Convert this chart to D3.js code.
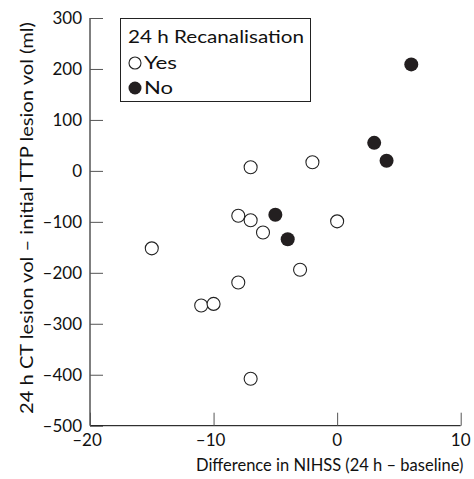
<!DOCTYPE html>
<html>
<head>
<meta charset="utf-8">
<script src="https://cdn.jsdelivr.net/npm/d3@7"></script>
<style>
  body { margin: 0; background: #fff; }
  text { font-family: Lato, "Noto Sans", sans-serif; fill: #111; }
</style>
</head>
<body>
<svg width="474" height="479"></svg>
<script>
// NIHSS change vs lesion volume change, split by recanalisation at 24 h
var nihssYes = [-7, -2, -8, -7, 0, -6, -15, -3, -8, -11, -10, -7];
var volYes   = [7, 17, -88, -97, -99, -121, -152, -194, -219, -264, -261, -408];
var nihssNo  = [6, 3, 4, -5, -4];
var volNo    = [209, 55, 20, -86, -134];

var xTicks = [-20, -10, 0, 10];
var yTicks = [300, 200, 100, 0, -100, -200, -300, -400, -500];

var svg = d3.select("svg");
var fs = 17;

var x = d3.scaleLinear().domain([-20, 10]).range([90, 460.7]);
var y = d3.scaleLinear().domain([-500, 300]).range([425.7, 18]);

var fmt = function(d) { return d < 0 ? "\u2013" + Math.abs(d) : d; };

// y axis, ticks pointing inward
var gy = svg.append("g").attr("transform", "translate(90,0)")
  .call(d3.axisRight(y).tickValues(yTicks).tickSize(13).tickFormat(""));
gy.select(".domain").attr("stroke", "#000").attr("d", "M0," + y(300) + "V" + y(-500));
gy.selectAll(".tick line").attr("stroke", "#555");

svg.selectAll(".ylab")
  .data(yTicks)
  .enter().append("text")
    .attr("x", 82)
    .attr("y", function(d) { return y(d) + 6; })
    .attr("text-anchor", "end")
    .attr("font-size", fs)
    .text(fmt);

// x axis
var gx = svg.append("g").attr("transform", "translate(0," + y(-500) + ")")
  .call(d3.axisTop(x).tickValues(xTicks).tickSize(13).tickFormat(""));
gx.select(".domain").attr("stroke", "#000").attr("d", "M" + x(-20) + ",0H" + x(10));
gx.selectAll(".tick line").attr("stroke", "#555");

svg.selectAll(".xlab")
  .data(xTicks)
  .enter().append("text")
    .attr("x", function(d) { return x(d) - (d < 0 ? 3 : 0); })
    .attr("y", 446)
    .attr("text-anchor", "middle")
    .attr("font-size", fs)
    .text(fmt);

// axis titles
svg.append("text")
  .attr("x", 196).attr("y", 471)
  .attr("font-size", 16.5)
  .text("Difference in NIHSS (24 h \u2013 baseline)");

svg.append("text")
  .attr("transform", "translate(33,414) rotate(-90)")
  .attr("font-size", fs)
  .attr("textLength", 392).attr("lengthAdjust", "spacingAndGlyphs")
  .text("24 h CT lesion vol \u2013 initial TTP lesion vol (ml)");

// points
svg.selectAll(".yes")
  .data(d3.range(nihssYes.length))
  .enter().append("circle")
    .attr("cx", function(i) { return x(nihssYes[i]); })
    .attr("cy", function(i) { return y(volYes[i]); })
    .attr("r", 6.5)
    .attr("fill", "#fff")
    .attr("stroke", "#222")
    .attr("stroke-width", 1.1);

svg.selectAll(".no")
  .data(d3.range(nihssNo.length))
  .enter().append("circle")
    .attr("cx", function(i) { return x(nihssNo[i]); })
    .attr("cy", function(i) { return y(volNo[i]); })
    .attr("r", 7)
    .attr("fill", "#231f20");

// legend
var lg = svg.append("g");
lg.append("rect")
  .attr("x", 120.5).attr("y", 18.5)
  .attr("width", 190).attr("height", 83)
  .attr("fill", "#fff").attr("stroke", "#222");
lg.append("text").attr("x", 128).attr("y", 43).attr("font-size", fs)
  .attr("textLength", 176).attr("lengthAdjust", "spacingAndGlyphs")
  .text("24 h Recanalisation");
lg.append("circle").attr("cx", 135).attr("cy", 63).attr("r", 6)
  .attr("fill", "#fff").attr("stroke", "#222").attr("stroke-width", 1.1);
lg.append("text").attr("x", 144).attr("y", 69).attr("font-size", fs)
  .attr("textLength", 33).attr("lengthAdjust", "spacingAndGlyphs").text("Yes");
lg.append("circle").attr("cx", 135).attr("cy", 88).attr("r", 6.5).attr("fill", "#231f20");
lg.append("text").attr("x", 144).attr("y", 94).attr("font-size", fs)
  .attr("textLength", 29).attr("lengthAdjust", "spacingAndGlyphs").text("No");
</script>
</body>
</html>
